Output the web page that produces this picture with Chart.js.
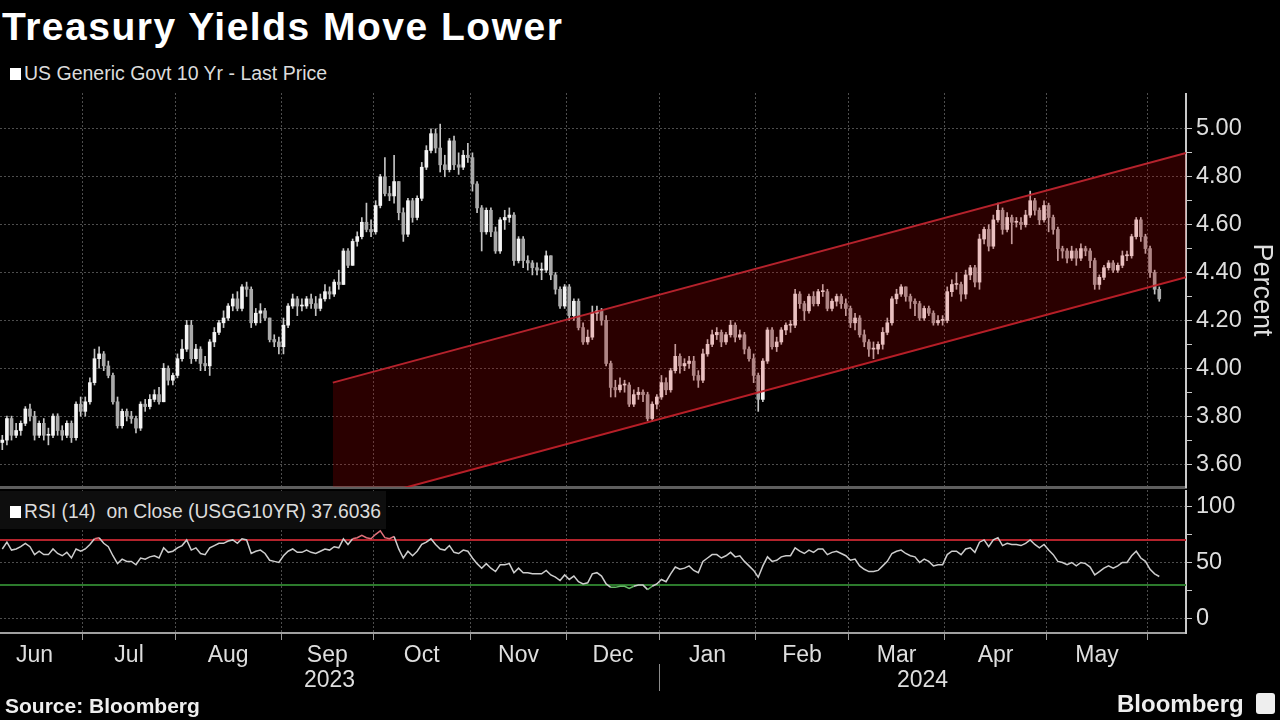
<!DOCTYPE html>
<html><head><meta charset="utf-8">
<script src="https://cdn.jsdelivr.net/npm/chart.js@4.4.1/dist/chart.umd.min.js"></script>
<style>
html,body{margin:0;padding:0;background:#000;width:1280px;height:720px;overflow:hidden;}
body{position:relative;font-family:"Liberation Sans",Arial,sans-serif;color:#e0e0e0;}
.t{position:absolute;white-space:pre;line-height:1;}
#title{left:2px;top:7px;font-size:39px;font-weight:700;color:#fff;letter-spacing:1.5px;}
#leg{left:10px;top:64px;font-size:19.5px;color:#dcdcdc;}
#rsiLab{left:0;top:491px;width:386px;height:38px;background:#0e0e0e;}
#rsiTxt{left:10px;top:502px;font-size:19.3px;color:#dcdcdc;}
.sq{display:inline-block;width:11px;height:12px;background:#fff;margin-right:3px;}
#src{left:5px;top:695px;font-size:21px;font-weight:700;color:#eee;}
#logo{left:1117px;top:692px;font-size:24px;font-weight:700;color:#eee;}
#icon{position:absolute;left:1256px;top:693px;width:19px;height:21px;background:#eee;border-radius:3px;}
canvas{position:absolute;left:0;}
#main{top:93px;}
#rsi{top:490px;}
</style></head>
<body>
<div class="t" id="title">Treasury Yields Move Lower</div>
<div class="t" id="leg"><span class="sq"></span>US Generic Govt 10 Yr - Last Price</div>
<canvas id="main" width="1280" height="397"></canvas>
<canvas id="rsi" width="1280" height="207"></canvas>
<div class="t" id="rsiLab"></div>
<div class="t" id="rsiTxt"><span class="sq"></span>RSI (14)  on Close (USGG10YR) 37.6036</div>
<div class="t" id="src">Source: Bloomberg</div>
<div class="t" id="logo">Bloomberg</div>
<div id="icon"></div>
<script>
// ---- categories / axis data ----
const monthNames = ['Jun','Jul','Aug','Sep','Oct','Nov','Dec','Jan','Feb','Mar','Apr','May'];
const monthDays = [18,20,23,20,21,21,20,21,20,21,22,22,3]; // trading days shown per month (Jun 2023 .. Jun 2024)
const firstMonthFullDays = 21;                               // trading days in all of Jun 2023
const yearLabels = ['2023','2024'];
const yearStartMonth = [0,7];
const xRange = [-0.5, 256.8];
const priceTicks = [3.6,3.7,3.8,3.9,4.0,4.1,4.2,4.3,4.4,4.5,4.6,4.7,4.8,4.9,5.0];
const priceRange = [3.504, 5.15];
const rsiTicks = [0,25,50,75,100];
const rsiRange = [-12.4, 114.2];
const rsiLevels = [70, 30];
// trend channel (trading-day index, percent)
const channelX = [71.7, 256.8];
const channelUpper = [3.94, 4.90];
const channelLower = [3.42, 4.38];

// ---- daily OHLC, USGG10YR ----
const opens = [
3.69,3.70,3.79,3.72,3.74,3.77,3.83,3.80,3.72,3.77,3.72,3.72,3.80,3.74,3.72,3.77,3.71,3.85,
3.82,3.86,3.94,4.04,4.06,4.01,3.97,3.86,3.76,3.82,3.80,3.79,3.75,3.85,3.84,3.87,3.89,3.86,4.00,3.95,
3.97,4.04,4.08,4.18,4.04,4.08,4.02,4.01,4.11,4.15,4.19,4.21,4.26,4.29,4.25,4.34,4.33,4.19,4.23,4.24,4.21,4.12,4.11,
4.09,4.18,4.26,4.29,4.26,4.26,4.29,4.27,4.25,4.29,4.32,4.31,4.36,4.35,4.49,4.43,4.53,4.55,4.61,4.58,
4.57,4.68,4.80,4.73,4.72,4.78,4.65,4.56,4.70,4.63,4.71,4.84,4.91,4.98,4.92,4.85,4.83,4.95,4.85,4.84,4.89,
4.88,4.77,4.67,4.57,4.66,4.57,4.49,4.62,4.63,4.64,4.45,4.54,4.45,4.44,4.42,4.41,4.41,4.47,4.39,4.33,4.26,
4.34,4.22,4.28,4.17,4.11,4.13,4.23,4.24,4.20,4.02,3.92,3.91,3.93,3.93,3.85,3.89,3.90,3.89,3.79,3.85,
3.88,3.94,3.91,3.99,4.05,4.01,4.02,4.03,3.97,3.95,4.06,4.10,4.14,4.15,4.11,4.14,4.18,4.13,4.14,4.08,4.04,
3.97,3.87,4.03,4.16,4.09,4.11,4.16,4.18,4.18,4.31,4.27,4.24,4.30,4.27,4.32,4.32,4.25,4.28,4.30,4.27,
4.25,4.19,4.21,4.14,4.11,4.08,4.08,4.10,4.15,4.19,4.29,4.31,4.34,4.30,4.28,4.27,4.21,4.25,4.23,4.19,4.20,
4.20,4.32,4.35,4.35,4.31,4.39,4.42,4.36,4.54,4.58,4.51,4.62,4.66,4.58,4.63,4.61,4.61,4.60,4.64,4.70,4.66,4.62,
4.68,4.63,4.58,4.50,4.49,4.46,4.49,4.46,4.50,4.49,4.45,4.35,4.38,4.42,4.44,4.41,4.43,4.47,4.47,4.55,4.62,4.55,
4.50,4.40,4.33];
const highs = [
3.72,3.80,3.80,3.77,3.78,3.84,3.85,3.82,3.78,3.79,3.75,3.81,3.81,3.76,3.78,3.78,3.86,3.88,
3.88,3.96,4.08,4.09,4.07,4.03,3.98,3.88,3.83,3.83,3.82,3.80,3.86,3.87,3.89,3.91,3.92,4.02,4.01,3.98,
4.06,4.12,4.20,4.20,4.10,4.09,4.05,4.12,4.17,4.20,4.24,4.27,4.31,4.32,4.35,4.36,4.34,4.25,4.27,4.25,4.21,4.14,4.13,
4.21,4.27,4.31,4.30,4.29,4.30,4.31,4.30,4.31,4.35,4.34,4.37,4.41,4.50,4.50,4.54,4.57,4.63,4.69,4.62,
4.70,4.81,4.88,4.76,4.89,4.78,4.67,4.71,4.71,4.72,4.86,4.93,5.00,5.00,5.02,4.89,4.96,4.97,4.90,4.91,4.94,
4.90,4.78,4.68,4.67,4.67,4.59,4.63,4.66,4.67,4.65,4.55,4.55,4.47,4.45,4.44,4.44,4.49,4.47,4.40,4.34,4.35,
4.35,4.29,4.29,4.19,4.16,4.26,4.26,4.25,4.22,4.03,3.95,3.96,3.95,3.94,3.91,3.92,3.91,3.90,3.86,3.89,
3.97,3.96,4.00,4.10,4.06,4.04,4.05,4.05,3.99,4.08,4.12,4.16,4.17,4.16,4.15,4.20,4.19,4.16,4.15,4.09,4.06,
3.98,4.04,4.17,4.17,4.13,4.17,4.19,4.20,4.33,4.32,4.28,4.31,4.32,4.33,4.35,4.33,4.29,4.31,4.31,4.29,
4.26,4.23,4.22,4.16,4.12,4.11,4.11,4.17,4.21,4.30,4.33,4.35,4.34,4.31,4.29,4.28,4.26,4.26,4.24,4.22,4.22,
4.34,4.37,4.40,4.36,4.41,4.43,4.43,4.56,4.59,4.60,4.64,4.69,4.67,4.65,4.64,4.63,4.63,4.66,4.74,4.71,4.67,4.70,
4.69,4.64,4.59,4.51,4.50,4.51,4.50,4.52,4.51,4.50,4.46,4.39,4.43,4.45,4.45,4.44,4.49,4.49,4.56,4.63,4.63,4.56,
4.51,4.41,4.34];
const lows = [
3.66,3.68,3.70,3.71,3.72,3.76,3.78,3.70,3.71,3.70,3.68,3.71,3.72,3.70,3.71,3.69,3.70,3.80,
3.80,3.85,3.93,4.00,3.99,3.96,3.85,3.75,3.75,3.78,3.77,3.73,3.74,3.82,3.83,3.86,3.85,3.86,3.93,3.93,
3.96,4.03,4.07,4.02,4.03,3.99,3.99,3.97,4.09,4.14,4.17,4.20,4.24,4.24,4.24,4.30,4.17,4.18,4.19,4.20,4.11,4.09,4.06,
4.06,4.17,4.25,4.22,4.24,4.25,4.25,4.22,4.24,4.28,4.29,4.30,4.33,4.35,4.42,4.43,4.51,4.54,4.57,4.55,
4.56,4.67,4.72,4.70,4.69,4.62,4.53,4.55,4.61,4.62,4.70,4.83,4.90,4.90,4.82,4.80,4.82,4.83,4.81,4.83,4.86,
4.74,4.65,4.49,4.56,4.55,4.48,4.48,4.58,4.61,4.43,4.44,4.42,4.41,4.39,4.39,4.37,4.40,4.37,4.31,4.25,4.25,
4.20,4.20,4.16,4.10,4.10,4.12,4.20,4.18,4.01,3.88,3.88,3.90,3.90,3.84,3.84,3.87,3.86,3.78,3.78,3.83,
3.87,3.89,3.90,3.98,3.98,3.99,4.00,3.95,3.92,3.94,4.05,4.09,4.12,4.09,4.10,4.13,4.11,4.12,4.06,4.03,3.94,
3.82,3.86,4.02,4.08,4.07,4.10,4.14,4.15,4.17,4.25,4.20,4.23,4.26,4.26,4.30,4.24,4.24,4.26,4.25,4.22,
4.17,4.16,4.13,4.09,4.05,4.04,4.06,4.08,4.14,4.18,4.27,4.30,4.28,4.25,4.22,4.20,4.20,4.22,4.18,4.18,4.18,
4.19,4.30,4.33,4.28,4.29,4.37,4.34,4.33,4.52,4.49,4.50,4.61,4.56,4.57,4.52,4.59,4.58,4.59,4.63,4.64,4.60,4.61,
4.57,4.56,4.45,4.46,4.44,4.45,4.43,4.45,4.47,4.42,4.33,4.33,4.37,4.41,4.40,4.40,4.42,4.45,4.46,4.54,4.53,4.48,
4.38,4.31,4.28];
const closes = [
3.70,3.79,3.72,3.74,3.77,3.83,3.80,3.72,3.77,3.72,3.72,3.80,3.74,3.72,3.77,3.71,3.85,3.82,
3.86,3.94,4.04,4.06,4.01,3.97,3.86,3.76,3.82,3.80,3.79,3.75,3.85,3.84,3.87,3.89,3.86,4.00,3.95,3.97,
4.04,4.08,4.18,4.04,4.08,4.02,4.01,4.11,4.15,4.19,4.21,4.26,4.29,4.25,4.34,4.33,4.19,4.23,4.24,4.21,4.12,4.11,4.09,
4.18,4.26,4.29,4.26,4.26,4.29,4.27,4.25,4.29,4.32,4.31,4.36,4.35,4.49,4.43,4.53,4.55,4.61,4.58,4.57,
4.68,4.80,4.73,4.72,4.78,4.65,4.56,4.70,4.63,4.71,4.84,4.91,4.98,4.92,4.85,4.83,4.95,4.85,4.84,4.89,4.88,
4.77,4.67,4.57,4.66,4.57,4.49,4.62,4.63,4.64,4.45,4.54,4.45,4.44,4.42,4.41,4.41,4.47,4.39,4.33,4.26,4.34,
4.22,4.28,4.17,4.11,4.13,4.23,4.24,4.20,4.02,3.92,3.91,3.93,3.93,3.85,3.89,3.90,3.89,3.79,3.85,3.88,
3.94,3.91,3.99,4.05,4.01,4.02,4.03,3.97,3.95,4.06,4.10,4.14,4.15,4.11,4.14,4.18,4.13,4.14,4.08,4.04,3.97,
3.87,4.03,4.16,4.09,4.11,4.16,4.18,4.18,4.31,4.27,4.24,4.30,4.27,4.32,4.32,4.25,4.28,4.30,4.27,4.25,
4.19,4.21,4.14,4.11,4.08,4.08,4.10,4.15,4.19,4.29,4.31,4.34,4.30,4.28,4.27,4.21,4.25,4.23,4.19,4.20,4.20,
4.32,4.35,4.35,4.31,4.39,4.42,4.36,4.54,4.58,4.51,4.62,4.66,4.58,4.63,4.61,4.61,4.60,4.64,4.70,4.66,4.62,4.68,
4.63,4.58,4.50,4.49,4.46,4.49,4.46,4.50,4.49,4.45,4.35,4.38,4.42,4.44,4.41,4.43,4.47,4.47,4.55,4.62,4.55,4.50,
4.40,4.33,4.29];
// ---- RSI(14) on close ----
const rsi = [
62,68,61,62,64,67,64,57,60,57,57,62,58,56,59,54,62,60,
62,66,71,72,67,64,56,49,53,51,51,48,54,53,55,56,54,63,59,60,
63,65,70,61,63,58,57,63,65,67,67,69,70,67,71,70,58,60,61,58,52,51,50,
56,60,62,59,59,61,59,58,60,62,61,64,63,71,66,71,72,74,72,71,
75,78,72,71,73,62,54,60,56,60,66,68,71,66,62,61,65,59,58,61,60,
54,49,45,49,45,42,48,48,49,41,45,41,41,40,40,40,43,39,37,34,39,
35,38,33,31,32,40,41,38,31,28,28,29,29,27,29,30,30,26,29,31,
35,33,40,46,44,45,47,43,41,51,54,57,57,54,56,59,55,56,51,47,43,
37,47,55,51,52,55,56,56,63,60,58,61,59,62,62,57,59,60,58,56,
52,53,47,44,42,42,43,47,51,58,60,61,58,56,55,50,53,51,47,48,48,
57,60,60,57,62,63,59,68,70,64,70,72,65,67,66,66,65,67,70,66,63,66,
61,57,51,50,48,50,47,50,49,46,39,42,45,47,45,47,50,50,56,60,54,51,
44,40,37.6036];

// ---- derived positions along the trading-day axis ----
const monthStart = []; let acc = 0;
monthDays.forEach(d => { monthStart.push(acc); acc += d; });
const boundaries = monthStart.slice(1).map(s => s - 0.5);
const monthCenters = monthNames.map((_, k) => k === 0
  ? (monthDays[0] - firstMonthFullDays) - 0.5 + firstMonthFullDays / 2
  : monthStart[k] - 0.5 + monthDays[k] / 2);
const yearBounds = [xRange[0], monthStart[yearStartMonth[1]] - 0.5, xRange[1]];
const yearCenters = yearLabels.map((_, k) => (yearBounds[k] + yearBounds[k + 1]) / 2);
const idx = closes.map((_, i) => i);

Chart.defaults.font.family = '"Liberation Sans", Arial, sans-serif';
Chart.defaults.color = '#dedede';

const GRID = '#4d4d4d';
const DASH = [2, 2];
const CH = 'rgba(190,36,46,0.95)';
const noPad = s => { s.paddingTop = 0; s.paddingBottom = 0; s.paddingLeft = 0; s.paddingRight = 0; };
const isMajor = v => Math.round(v * 10) % 2 === 0;

new Chart(document.getElementById('main'), {
  type: 'bar',
  data: { datasets: [
    { type: 'line', data: channelX.map((x, i) => ({x, y: channelUpper[i]})),
      borderColor: CH, borderWidth: 2, pointRadius: 0, tension: 0,
      fill: '+1', backgroundColor: 'rgba(200,0,0,0.21)', order: 0 },
    { type: 'line', data: channelX.map((x, i) => ({x, y: channelLower[i]})),
      borderColor: CH, borderWidth: 2, pointRadius: 0, tension: 0,
      fill: false, order: 0 },
    { data: idx.map(i => ({x: i, y: [opens[i], closes[i]]})),
      backgroundColor: c => closes[c.dataIndex] >= opens[c.dataIndex] ? '#f4f4f4' : '#a9a9a9',
      barThickness: 3, minBarLength: 1, grouped: false, order: 1 },
    { data: idx.map(i => ({x: i, y: [lows[i], highs[i]]})),
      backgroundColor: '#c4c4c4', barThickness: 1, grouped: false, order: 2 }
  ]},
  options: {
    responsive: false, animation: false, devicePixelRatio: 1,
    layout: { padding: 0 },
    plugins: { legend: { display: false }, tooltip: { enabled: false } },
    scales: {
      x: { type: 'linear', min: xRange[0], max: xRange[1], offset: false,
        afterBuildTicks: s => { s.ticks = boundaries.map(v => ({value: v})); },
        ticks: { display: false },
        grid: { color: GRID, drawTicks: false, offset: false },
        border: { display: true, color: '#5e5e5e', width: 3, dash: DASH },
        afterFit: s => { s.height = 3; noPad(s); } },
      y: { position: 'right', min: priceRange[0], max: priceRange[1], beginAtZero: false,
        afterBuildTicks: s => { s.ticks = priceTicks.map(v => ({value: v})); },
        ticks: { callback: v => isMajor(v) ? v.toFixed(2) : '', color: '#dedede',
          font: { size: 23.5 }, padding: 4, autoSkip: false },
        grid: { color: c => isMajor(c.tick.value) ? GRID : 'rgba(0,0,0,0)', tickColor: '#c8c8c8', tickLength: 6 },
        border: { color: '#c8c8c8', width: 2, dash: DASH },
        title: { display: true, text: 'Percent', color: '#dedede', font: { size: 27 }, padding: { top: 2, bottom: 0 } },
        afterFit: s => { s.width = 94; noPad(s); } }
    }
  }
});

const yearDivider = {
  id: 'yearDivider',
  afterDraw(chart) {
    const s = chart.scales.xYear; const ctx = chart.ctx;
    const px = Math.round(s.getPixelForValue(yearBounds[1])) + 0.5;
    ctx.save(); ctx.strokeStyle = '#8c8c8c'; ctx.lineWidth = 1;
    ctx.beginPath(); ctx.moveTo(px, s.top - 3); ctx.lineTo(px, s.top + 24); ctx.stroke(); ctx.restore();
  }
};

new Chart(document.getElementById('rsi'), {
  type: 'line',
  data: { datasets: [
    { data: idx.map(i => ({x: i, y: rsi[i]})), borderColor: '#cdcdcd', borderWidth: 1.5,
      pointRadius: 0, tension: 0, order: 0,
      segment: { borderColor: s => (s.p0.parsed.y > rsiLevels[0] && s.p1.parsed.y > rsiLevels[0]) ? '#e0707a'
        : (s.p0.parsed.y < rsiLevels[1] && s.p1.parsed.y < rsiLevels[1]) ? '#66b866' : undefined } },
    { data: xRange.map(x => ({x, y: rsiLevels[0]})), borderColor: '#b3232c', borderWidth: 2, pointRadius: 0, order: 1 },
    { data: xRange.map(x => ({x, y: rsiLevels[1]})), borderColor: '#2c7a2c', borderWidth: 2, pointRadius: 0, order: 1 }
  ]},
  options: {
    responsive: false, animation: false, devicePixelRatio: 1,
    layout: { padding: 0 },
    plugins: { legend: { display: false }, tooltip: { enabled: false } },
    scales: {
      x: { type: 'linear', min: xRange[0], max: xRange[1], offset: false, weight: 0,
        afterBuildTicks: s => { s.ticks = boundaries.map(v => ({value: v})); },
        ticks: { display: false },
        grid: { color: GRID, tickColor: '#9a9a9a', tickLength: 7, offset: false },
        border: { display: true, color: '#a0a0a0', width: 2, dash: DASH },
        afterFit: s => { s.height = 8; noPad(s); } },
      xMonth: { type: 'linear', position: 'bottom', min: xRange[0], max: xRange[1], offset: false, weight: 1,
        afterBuildTicks: s => { s.ticks = monthCenters.map(v => ({value: v})); },
        ticks: { callback: (v, i) => monthNames[i], autoSkip: false, maxRotation: 0, color: '#dedede',
          font: { size: 23 }, padding: 1 },
        grid: { display: false, drawTicks: false }, border: { display: false },
        afterFit: s => { s.height = 26; noPad(s); } },
      xYear: { type: 'linear', position: 'bottom', min: xRange[0], max: xRange[1], offset: false, weight: 2,
        afterBuildTicks: s => { s.ticks = yearCenters.map(v => ({value: v})); },
        ticks: { callback: (v, i) => yearLabels[i], autoSkip: false, maxRotation: 0, color: '#dedede',
          font: { size: 23 }, padding: 0 },
        grid: { display: false, drawTicks: false }, border: { display: false },
        afterFit: s => { s.height = 30; noPad(s); } },
      y: { position: 'right', min: rsiRange[0], max: rsiRange[1], beginAtZero: false,
        afterBuildTicks: s => { s.ticks = rsiTicks.map(v => ({value: v})); },
        ticks: { callback: v => v % 50 === 0 ? String(v) : '', color: '#dedede', font: { size: 23.5 }, padding: 4, autoSkip: false },
        grid: { color: c => c.tick.value % 50 === 0 ? GRID : 'rgba(0,0,0,0)', tickColor: '#c8c8c8', tickLength: 6 },
        border: { color: '#c8c8c8', width: 2, dash: DASH },
        afterFit: s => { s.width = 94; noPad(s); } }
    }
  },
  plugins: [yearDivider]
});
</script>
</body></html>
